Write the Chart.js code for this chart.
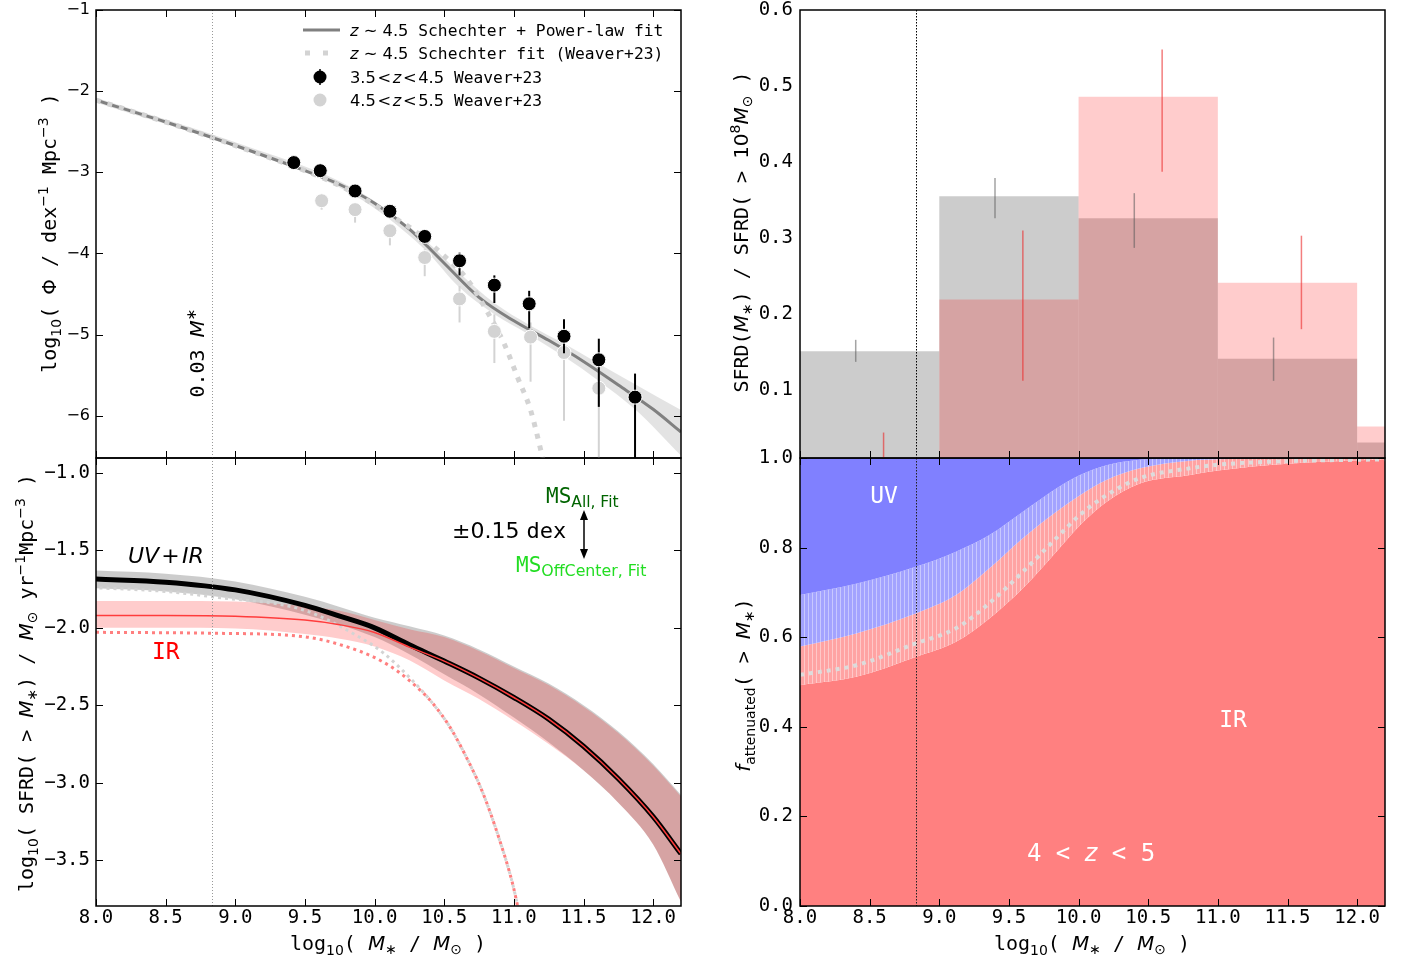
<!DOCTYPE html>
<html>
<head>
<meta charset="utf-8">
<title>SFRD and attenuation vs stellar mass</title>
<script src="https://cdn.jsdelivr.net/npm/chart.js@4.4.1/dist/chart.umd.min.js"></script>
<style>
html, body { margin:0; padding:0; background:#ffffff; }
#wrap { position:relative; width:1406px; height:960px; overflow:hidden; background:#ffffff; }
#wrap canvas { position:absolute; left:0; top:0; }
</style>
</head>
<body>
<div id="wrap">
  <canvas id="cBR" width="1406" height="960"></canvas>
  <canvas id="cTR" width="1406" height="960"></canvas>
  <canvas id="cBL" width="1406" height="960"></canvas>
  <canvas id="cTL" width="1406" height="960"></canvas>
</div>
<script>
// ================= DATA =================
// tick values
const massTicks = [8.0, 8.5, 9.0, 9.5, 10.0, 10.5, 11.0, 11.5, 12.0];
const phiTicks  = [-1, -2, -3, -4, -5, -6];
const sfrdTicks = [-1.0, -1.5, -2.0, -2.5, -3.0, -3.5];
const fracTicks = [0.1, 0.2, 0.3, 0.4, 0.5, 0.6];
const attTicks  = [0.0, 0.2, 0.4, 0.6, 0.8, 1.0];
const massLimit = 8.83;   // 0.03 M*

// --- top-left: stellar mass function ---
const w3545Mass = [9.42, 9.61, 9.86, 10.11, 10.36, 10.61, 10.86, 11.11, 11.36, 11.61, 11.87];
const w3545Phi  = [-2.88, -2.98, -3.23, -3.48, -3.79, -4.09, -4.39, -4.62, -5.02, -5.31, -5.77];
const w3545Lo   = [-2.91, -3.01, -3.27, -3.52, -3.84, -4.27, -4.61, -4.92, -5.23, -5.89, -7.00];
const w3545Hi   = [-2.85, -2.95, -3.19, -3.44, -3.75, -3.99, -4.27, -4.46, -4.81, -5.05, -5.48];
const w4555Mass = [9.62, 9.86, 10.11, 10.36, 10.61, 10.86, 11.12, 11.36, 11.61];
const w4555Phi  = [-3.35, -3.46, -3.72, -4.05, -4.56, -4.96, -5.03, -5.22, -5.66];
const w4555Lo   = [-3.46, -3.62, -3.90, -4.28, -4.85, -5.35, -5.58, -6.06, -7.00];
const w4555Hi   = [-3.30, -3.40, -3.65, -3.95, -4.40, -4.75, -4.85, -5.00, -5.35];
const fitMass   = [8.0, 8.5, 9.0, 9.5, 9.75, 10.0, 10.25, 10.5, 10.75, 11.0, 11.25, 11.5, 11.75, 12.0, 12.2];
const fitPhi    = [-2.11, -2.38, -2.67, -2.98, -3.15, -3.38, -3.70, -4.12, -4.54, -4.83, -5.07, -5.33, -5.62, -5.92, -6.20];
const fitBandMass = [8.0, 9.0, 9.86, 10.36, 10.61, 10.86, 11.11, 11.36, 11.61, 11.87, 12.2];
const fitBandHi   = [-2.08, -2.63, -3.21, -3.83, -4.24, -4.61, -4.88, -5.11, -5.36, -5.61, -5.93];
const fitBandLo   = [-2.14, -2.69, -3.29, -3.95, -4.42, -4.75, -5.00, -5.27, -5.57, -5.92, -6.49];
const schMass = [8.0, 8.5, 9.0, 9.5, 9.72, 9.94, 10.17, 10.27, 10.48, 10.67, 10.81, 10.93, 11.03, 11.12, 11.19, 11.23];
const schPhi  = [-2.11, -2.38, -2.67, -2.98, -3.14, -3.34, -3.59, -3.70, -4.00, -4.33, -4.72, -5.11, -5.54, -5.93, -6.40, -6.70];

// --- bottom-left: cumulative SFRD ---
const sfrdMass   = [8.0, 8.5, 9.0, 9.5, 9.75, 10.0, 10.25, 10.5, 10.75, 11.0, 11.25, 11.5, 11.75, 12.0, 12.2];
const sfrdUVIR   = [-1.685, -1.705, -1.755, -1.855, -1.925, -2.00, -2.11, -2.215, -2.325, -2.45, -2.59, -2.765, -2.975, -3.22, -3.46];
const sfrdIR     = [-1.92, -1.92, -1.925, -1.95, -1.98, -2.03, -2.125, -2.215, -2.325, -2.45, -2.59, -2.765, -2.975, -3.22, -3.46];
const sfrdUVIRHi = [-1.63, -1.65, -1.70, -1.80, -1.865, -1.935, -1.99, -2.05, -2.14, -2.25, -2.36, -2.50, -2.67, -2.88, -3.08];
const sfrdUVIRLo = [-1.745, -1.765, -1.815, -1.915, -1.98, -2.06, -2.17, -2.30, -2.43, -2.58, -2.74, -2.92, -3.13, -3.40, -3.77];
const sfrdIRHi   = [-1.826, -1.826, -1.83, -1.86, -1.89, -1.95, -2.01, -2.06, -2.15, -2.26, -2.37, -2.51, -2.68, -2.89, -3.09];
const sfrdIRLo   = [-2.0, -2.0, -2.005, -2.04, -2.07, -2.12, -2.21, -2.34, -2.46, -2.60, -2.75, -2.92, -3.13, -3.40, -3.77];
const schUVIRMass = [8.0, 8.5, 8.84, 9.49, 9.91, 10.06, 10.25, 10.41, 10.54, 10.65, 10.77, 10.89, 10.99, 11.04];
const schUVIR     = [-1.741, -1.765, -1.80, -1.885, -2.07, -2.16, -2.32, -2.48, -2.64, -2.82, -3.05, -3.35, -3.65, -3.85];
const schIRMass   = [8.0, 8.84, 9.49, 9.89, 10.06, 10.18, 10.30, 10.42, 10.54, 10.65, 10.77, 10.89, 10.99, 11.04];
const schIR       = [-2.029, -2.035, -2.057, -2.15, -2.22, -2.29, -2.38, -2.49, -2.64, -2.82, -3.05, -3.35, -3.65, -3.85];

// --- top-right: SFRD fraction per mass bin ---
const binCentres = [8.5, 9.5, 10.5, 11.5, 12.5];
const fracUVIR   = [0.151, 0.355, 0.326, 0.141, 0.031];
const fracIR     = [0.005, 0.219, 0.486, 0.241, 0.052];
const errUVIRMass = [8.4, 9.4, 10.4, 11.4];
const errUVIRLo   = [0.137, 0.326, 0.287, 0.112];
const errUVIRHi   = [0.166, 0.379, 0.359, 0.169];
const errIRMass   = [8.6, 9.6, 10.6, 11.6];
const errIRLo     = [0.0, 0.112, 0.387, 0.180];
const errIRHi     = [0.044, 0.310, 0.548, 0.303];

// --- bottom-right: attenuated fraction ---
const attMass = [8.0, 8.41, 8.83, 9.12, 9.36, 9.60, 9.84, 10.01, 10.20, 10.44, 10.80, 11.0, 11.5, 12.2];
const attIRLo = [0.493, 0.512, 0.556, 0.590, 0.642, 0.709, 0.791, 0.850, 0.902, 0.943, 0.962, 0.972, 0.987, 0.997];
const attIRHi = [0.579, 0.609, 0.653, 0.694, 0.754, 0.821, 0.880, 0.917, 0.951, 0.977, 0.994, 0.997, 1.0, 1.0];
const attUVHi = [0.694, 0.720, 0.757, 0.791, 0.828, 0.880, 0.932, 0.962, 0.984, 0.996, 1.0, 1.0, 1.0, 1.0];
const attMid  = [0.516, 0.538, 0.586, 0.620, 0.676, 0.746, 0.821, 0.873, 0.917, 0.955, 0.977, 0.985, 0.993, 0.997];

// ================= HELPERS =================
const MONO = '"DejaVu Sans Mono", monospace';
const SANS = '"DejaVu Sans", sans-serif';
const CW = 1406, CH = 960;
Chart.defaults.font.family = MONO;

const ctxOf = id => document.getElementById(id).getContext('2d');
const pts = (xs, ys) => xs.map((x, i) => ({x, y: ys[i]}));
function layer(list) { list.forEach((d, i) => { d.order = list.length - i; }); return list; }
function lineDs(xs, ys, o) {
  return Object.assign({
    type: 'line', data: pts(xs, ys), pointRadius: 0, borderWidth: 0, fill: false,
    cubicInterpolationMode: 'monotone', borderColor: 'rgba(0,0,0,0)',
    backgroundColor: 'rgba(0,0,0,0)', clip: 0, borderCapStyle: 'butt'
  }, o);
}
const m  = (t, z = 20, dy = 0, c) => ({t, f: MONO, z, dy, c});
const s  = (t, z = 20, dy = 0, c) => ({t, f: SANS, z, dy, c});
const it = (t, z = 20, dy = 0, c) => ({t, f: SANS, z, dy, c, i: true});
const fontOf = g => (g.i ? 'italic ' : '') + g.z + 'px ' + g.f;
function rich(ctx, segs, x, y, align = 'left', rot = 0, color = '#000') {
  ctx.save();
  ctx.translate(x, y);
  if (rot) ctx.rotate(rot);
  ctx.textAlign = 'left'; ctx.textBaseline = 'alphabetic';
  let total = 0;
  const ws = segs.map(g => { ctx.font = fontOf(g); const w = ctx.measureText(g.t).width; total += w; return w; });
  let cx = align === 'center' ? -total / 2 : (align === 'right' ? -total : 0);
  segs.forEach((g, i) => { ctx.font = fontOf(g); ctx.fillStyle = g.c || color; ctx.fillText(g.t, cx, g.dy || 0); cx += ws[i]; });
  ctx.restore();
}
function frame(chart, sides, xv, yv) {
  const {ctx, chartArea: a, scales: {x, y}} = chart;
  const L = 7;
  ctx.save();
  ctx.strokeStyle = '#000'; ctx.lineWidth = 1;
  ctx.beginPath();
  xv.forEach(v => {
    const p = Math.round(x.getPixelForValue(v)) + 0.5;
    if (sides.includes('b')) { ctx.moveTo(p, a.bottom); ctx.lineTo(p, a.bottom - L); }
    if (sides.includes('t')) { ctx.moveTo(p, a.top); ctx.lineTo(p, a.top + L); }
  });
  yv.forEach(v => {
    const p = Math.round(y.getPixelForValue(v)) + 0.5;
    if (sides.includes('l')) { ctx.moveTo(a.left, p); ctx.lineTo(a.left + L, p); }
    if (sides.includes('r')) { ctx.moveTo(a.right, p); ctx.lineTo(a.right - L, p); }
  });
  ctx.stroke();
  ctx.lineWidth = 1.5;
  ctx.strokeRect(a.left, a.top, a.width, a.height);
  ctx.restore();
}
function vline(chart, v, color, dash, w = 1) {
  const {ctx, chartArea: a, scales: {x}} = chart;
  const p = Math.round(x.getPixelForValue(v)) + 0.5;
  ctx.save(); ctx.strokeStyle = color; ctx.lineWidth = w; ctx.setLineDash(dash);
  ctx.beginPath(); ctx.moveTo(p, a.top); ctx.lineTo(p, a.bottom); ctx.stroke(); ctx.restore();
}
function errBars(chart, xs, lo, hi, color, w) {
  const {ctx, chartArea: a, scales: {x, y}} = chart;
  ctx.save();
  ctx.beginPath(); ctx.rect(a.left, a.top, a.width, a.height); ctx.clip();
  ctx.strokeStyle = color; ctx.lineWidth = w;
  xs.forEach((v, i) => {
    const p = x.getPixelForValue(v);
    ctx.beginPath(); ctx.moveTo(p, y.getPixelForValue(lo[i])); ctx.lineTo(p, y.getPixelForValue(hi[i])); ctx.stroke();
  });
  ctx.restore();
}
function opts(area, yMin, yMax, yTicks, yFmt, yFont, showX, yPad) {
  const yW = 70, xH = 34;
  return {
    responsive: false, animation: false, events: [],
    layout: { padding: { left: area.l - yW, top: area.t, right: CW - area.r, bottom: CH - area.b - xH } },
    plugins: { legend: {display: false}, tooltip: {enabled: false}, title: {display: false} },
    scales: {
      x: {
        type: 'linear', min: 8.0, max: 12.2, offset: false,
        afterBuildTicks: sc => { sc.ticks = massTicks.map(v => ({value: v})); },
        afterFit: sc => { sc.height = xH; sc.paddingLeft = 0; sc.paddingRight = 0; },
        grid: {display: false, drawTicks: false}, border: {display: false},
        ticks: {display: showX, autoSkip: false, maxRotation: 0, minRotation: 0, padding: 1,
                color: '#000', font: {family: MONO, size: 19}, callback: v => Number(v).toFixed(1)}
      },
      y: {
        type: 'linear', min: yMin, max: yMax,
        afterBuildTicks: sc => { sc.ticks = yTicks.map(v => ({value: v})); },
        afterFit: sc => { sc.width = yW; sc.paddingTop = 0; sc.paddingBottom = 0; },
        grid: {display: false, drawTicks: false}, border: {display: false},
        ticks: {autoSkip: false, padding: yPad, color: '#000', font: yFont, callback: yFmt}
      }
    }
  };
}
const minusFmt = d => v => (v < 0 ? '\u2212' : '') + Math.abs(Number(v)).toFixed(d);
const xTitle = () => [m('log'), s('10', 14, 5), m('( '), it('M'), s('\u2217', 14, 4), m(' / '), it('M'), s('\u2299', 14, 4), m(' )')];
const HS = '\u200A';

// ================= TOP-LEFT =================
new Chart(ctxOf('cTL'), {
  type: 'line',
  data: { datasets: layer([
    lineDs(fitBandMass, fitBandHi, {fill: '+1', backgroundColor: 'rgba(128,128,128,0.22)'}),
    lineDs(fitBandMass, fitBandLo, {}),
    lineDs(fitMass, fitPhi, {borderColor: '#808080', borderWidth: 3}),
    lineDs(schMass, schPhi, {borderColor: '#d3d3d3', borderWidth: 5, borderDash: [5, 7]}),
    {type: 'line', data: pts(w4555Mass, w4555Phi), showLine: false, pointRadius: 7, clip: 0,
     pointBackgroundColor: '#d3d3d3', pointBorderColor: '#ffffff', pointBorderWidth: 1, errKey: 'w4555'},
    {type: 'line', data: pts(w3545Mass, w3545Phi), showLine: false, pointRadius: 7, clip: 0,
     pointBackgroundColor: '#000000', pointBorderColor: '#ffffff', pointBorderWidth: 1, errKey: 'w3545'}
  ])},
  options: opts({l: 96, t: 10, r: 681, b: 458}, -6.52, -1, phiTicks, minusFmt(0), {family: SANS, size: 16}, false, 6),
  plugins: [{
    id: 'tlDecor',
    beforeDatasetDraw(chart, args) {
      const ds = chart.data.datasets[args.index];
      if (ds.errKey === 'w4555') errBars(chart, w4555Mass, w4555Lo, w4555Hi, '#d3d3d3', 2);
      if (ds.errKey === 'w3545') errBars(chart, w3545Mass, w3545Lo, w3545Hi, '#000000', 2);
    },
    afterDatasetsDraw(chart) {
      const ctx = chart.ctx;
      vline(chart, massLimit, '#999999', [1, 2]);
      frame(chart, 'tblr', massTicks, phiTicks);
      // legend
      ctx.save();
      ctx.strokeStyle = '#808080'; ctx.lineWidth = 3;
      ctx.beginPath(); ctx.moveTo(303, 30); ctx.lineTo(340, 30); ctx.stroke();
      ctx.strokeStyle = '#d3d3d3'; ctx.lineWidth = 5; ctx.setLineDash([5, 13]);
      ctx.beginPath(); ctx.moveTo(305, 53); ctx.lineTo(341, 53); ctx.stroke();
      ctx.setLineDash([]);
      ctx.strokeStyle = '#000'; ctx.lineWidth = 1.5;
      ctx.beginPath(); ctx.moveTo(320, 69); ctx.lineTo(320, 85); ctx.stroke();
      ctx.fillStyle = '#000'; ctx.beginPath(); ctx.arc(320, 77, 6.5, 0, 2 * Math.PI); ctx.fill();
      ctx.fillStyle = '#d3d3d3'; ctx.beginPath(); ctx.arc(320, 100, 6.5, 0, 2 * Math.PI); ctx.fill();
      ctx.restore();
      rich(ctx, [it('z', 16.3), s(' \u223C ', 16.3), s('4.5', 16.3), m(' Schechter + Power-law fit', 16.3)], 350, 36);
      rich(ctx, [it('z', 16.3), s(' \u223C ', 16.3), s('4.5', 16.3), m(' Schechter fit (Weaver+23)', 16.3)], 350, 59);
      rich(ctx, [s('3.5' + HS + '<' + HS, 16.3), it('z', 16.3), s(HS + '<' + HS + '4.5', 16.3), m(' Weaver+23', 16.3)], 350, 83);
      rich(ctx, [s('4.5' + HS + '<' + HS, 16.3), it('z', 16.3), s(HS + '<' + HS + '5.5', 16.3), m(' Weaver+23', 16.3)], 350, 106);
      // labels
      rich(ctx, [m('0.03 '), it('M'), s('\u2217', 14, -8)], 204, 353, 'center', -Math.PI / 2);
      rich(ctx, [m('log'), s('10', 14, 5), m('( '), s('\u03A6'), m(' / '), m('dex'), s('\u22121', 14, -8),
                 m(' Mpc'), s('\u22123', 14, -8), m(' )')], 56, 233, 'center', -Math.PI / 2);
    }
  }]
});

// ================= BOTTOM-LEFT =================
new Chart(ctxOf('cBL'), {
  type: 'line',
  data: { datasets: layer([
    lineDs(sfrdMass, sfrdUVIRHi, {fill: '+1', backgroundColor: 'rgba(128,128,128,0.4)'}),
    lineDs(sfrdMass, sfrdUVIRLo, {}),
    lineDs(sfrdMass, sfrdIRHi, {fill: '+1', backgroundColor: 'rgba(255,0,0,0.2)'}),
    lineDs(sfrdMass, sfrdIRLo, {}),
    lineDs(schIRMass, schIR, {borderColor: '#ff7f7f', borderWidth: 3, borderDash: [3, 4]}),
    lineDs(schUVIRMass, schUVIR, {borderColor: '#d3d3d3', borderWidth: 3, borderDash: [3, 4], borderDashOffset: 3.5}),
    lineDs(sfrdMass, sfrdUVIR, {borderColor: '#000000', borderWidth: 5}),
    lineDs(sfrdMass, sfrdIR, {borderColor: '#ff3c3c', borderWidth: 1.5})
  ])},
  options: opts({l: 96, t: 458, r: 681, b: 906}, -3.797, -0.903, sfrdTicks, minusFmt(1), {family: MONO, size: 19}, true, 6),
  plugins: [{
    id: 'blDecor',
    afterDatasetsDraw(chart) {
      const ctx = chart.ctx;
      vline(chart, massLimit, '#999999', [1, 2]);
      frame(chart, 'tblr', massTicks, sfrdTicks);
      rich(ctx, [it('UV', 22), s(HS + '+' + HS, 22), it('IR', 22)], 128, 563);
      rich(ctx, [m('IR', 23, 0, '#ff0000')], 152, 659);
      rich(ctx, [s('\u00B10.15 ', 22), m('dex', 22)], 452, 538);
      rich(ctx, [m('MS', 21, 0, '#006400'), s('All, Fit', 15.5, 4, '#006400')], 546, 503);
      rich(ctx, [m('MS', 21, 0, '#22dd22'), s('OffCenter, Fit', 15.8, 4, '#22dd22')], 516, 572);
      // double arrow
      ctx.save();
      ctx.strokeStyle = '#000'; ctx.fillStyle = '#000'; ctx.lineWidth = 1.5;
      ctx.beginPath(); ctx.moveTo(584, 518); ctx.lineTo(584, 552); ctx.stroke();
      ctx.beginPath(); ctx.moveTo(584, 510); ctx.lineTo(580, 520); ctx.lineTo(588, 520); ctx.closePath(); ctx.fill();
      ctx.beginPath(); ctx.moveTo(584, 559); ctx.lineTo(580, 549); ctx.lineTo(588, 549); ctx.closePath(); ctx.fill();
      ctx.restore();
      rich(ctx, [m('log'), s('10', 14, 5), m('( SFRD( > '), it('M'), s('\u2217', 14, 4), m(') / '), it('M'),
                 s('\u2299', 14, 4), m(' yr'), s('\u22121', 14, -8), m('Mpc'), s('\u22123', 14, -8), m(' )')],
           33, 683, 'center', -Math.PI / 2);
      rich(ctx, xTitle(), 388, 950, 'center');
    }
  }]
});

// ================= TOP-RIGHT =================
// bars span a full 1-dex bin (sample spacing is limited by the 0.5-dex ticks, hence percentage 2)
new Chart(ctxOf('cTR'), {
  type: 'bar',
  data: { datasets: layer([
    {type: 'bar', data: pts(binCentres, fracUVIR), backgroundColor: 'rgba(128,128,128,0.4)', borderWidth: 0,
     grouped: false, barPercentage: 1, categoryPercentage: 2, clip: 0},
    {type: 'bar', data: pts(binCentres, fracIR), backgroundColor: 'rgba(255,0,0,0.2)', borderWidth: 0,
     grouped: false, barPercentage: 1, categoryPercentage: 2, clip: 0}
  ])},
  options: opts({l: 800, t: 10, r: 1385, b: 458}, 0.0105, 0.6, fracTicks, v => Number(v).toFixed(1), {family: MONO, size: 19}, false, 7),
  plugins: [{
    id: 'trDecor',
    afterDatasetsDraw(chart) {
      const ctx = chart.ctx;
      errBars(chart, errUVIRMass, errUVIRLo, errUVIRHi, 'rgba(90,90,90,0.55)', 1.5);
      errBars(chart, errIRMass, errIRLo, errIRHi, 'rgba(235,40,40,0.6)', 1.5);
      vline(chart, massLimit, '#000000', [1.5, 1.5]);
      frame(chart, 'b', massTicks, fracTicks);
      rich(ctx, [m('SFRD('), it('M'), s('\u2217', 14, 4), m(') / SFRD( > '), s('10'), s('8', 14, -8), it('M'),
                 s('\u2299', 14, 4), m(' )')], 748, 232, 'center', -Math.PI / 2);
    }
  }]
});

// ================= BOTTOM-RIGHT =================
const brCtx = ctxOf('cBR');
function hatch(c, base, stripe) {
  const pc = document.createElement('canvas'); pc.width = 4; pc.height = 4;
  const g = pc.getContext('2d');
  g.fillStyle = base; g.fillRect(0, 0, 4, 4);
  g.fillStyle = stripe; g.fillRect(0, 0, 1, 4);
  return c.createPattern(pc, 'repeat');
}
const pinkHatch = hatch(brCtx, 'rgb(255,163,163)', 'rgb(255,200,200)');
const blueHatch = hatch(brCtx, 'rgb(163,163,255)', 'rgb(200,200,255)');
new Chart(brCtx, {
  type: 'line',
  data: { datasets: layer([
    lineDs(attMass, attIRLo, {fill: 'start', backgroundColor: '#ff8080'}),
    lineDs(attMass, attIRHi, {fill: '-1', backgroundColor: pinkHatch}),
    lineDs(attMass, attUVHi, {fill: '-1', backgroundColor: blueHatch}),
    lineDs(attMass, attUVHi, {fill: 'end', backgroundColor: '#8080ff'}),
    lineDs(attMass, attMid, {borderColor: '#dcdcdc', borderWidth: 4, borderDash: [4, 5]})
  ])},
  options: opts({l: 800, t: 458, r: 1385, b: 906}, 0, 1, attTicks, v => Number(v).toFixed(1), {family: MONO, size: 19}, true, 7),
  plugins: [{
    id: 'brDecor',
    afterDatasetsDraw(chart) {
      const ctx = chart.ctx;
      vline(chart, massLimit, '#222222', [1.5, 1.5]);
      frame(chart, 'tblr', massTicks, attTicks);
      rich(ctx, [m('UV', 23)], 884, 503, 'center', 0, '#ffffff');
      rich(ctx, [m('IR', 23)], 1233, 727, 'center', 0, '#ffffff');
      rich(ctx, [m('4 < ', 24), it('z', 24), m(' < 5', 24)], 1091, 861, 'center', 0, '#ffffff');
      rich(ctx, [it('f'), s('attenuated', 14, 5), m('( > '), it('M'), s('\u2217', 14, 4), m(')')],
           750, 685, 'center', -Math.PI / 2);
      rich(ctx, xTitle(), 1092, 950, 'center');
    }
  }]
});
</script>
</body>
</html>
